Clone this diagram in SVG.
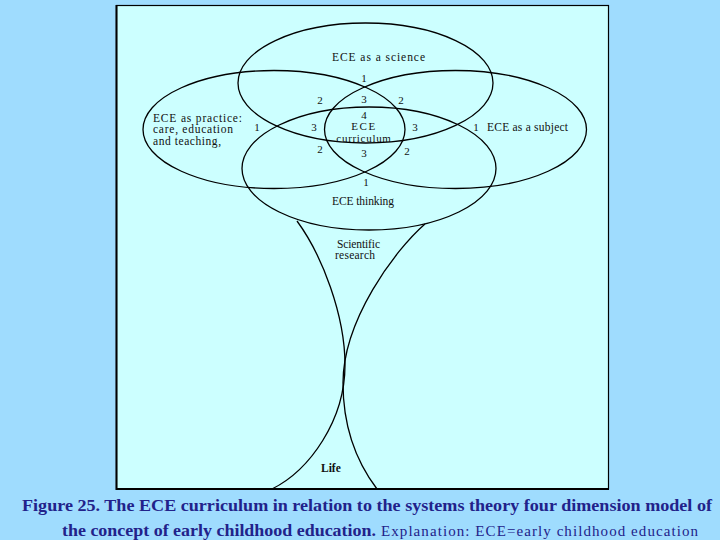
<svg xmlns="http://www.w3.org/2000/svg" width="720" height="540" viewBox="0 0 720 540">
<style>
.ring{fill:none;stroke:#000;stroke-width:1.3}
.lbl{font-family:"Liberation Serif","Times New Roman",serif;font-size:11.5px;fill:#111}
.num{font-family:"Liberation Serif","Times New Roman",serif;font-size:11px;fill:#111;text-anchor:middle}
.cap{font-family:"Liberation Serif","Times New Roman",serif;fill:#22228a}
</style>
<rect x="0" y="0" width="720" height="540" fill="#9fdcfe"/>
<rect id="panel" x="116.5" y="5.5" width="492" height="483.5" fill="#ccffff" stroke="#000" stroke-width="1.2"/>
<line x1="116.5" y1="5" x2="116.5" y2="490" stroke="#000" stroke-width="2"/>
<line x1="116" y1="489" x2="609" y2="489" stroke="#000" stroke-width="2"/>
<g id="connectors">
<path class="ring" d="M297,221 C322,255 345,315 345,365 C345,420 310,470 272,489"/>
<path class="ring" d="M425,224 C395,250 343,320 343,383 C343,425 355,460 377,489"/>
</g>
<g id="science">
<ellipse class="ring" cx="365.5" cy="83" rx="127.5" ry="60"/>
<text class="lbl" x="332" y="61" textLength="93" lengthAdjust="spacing">ECE as a science</text>
</g>
<g id="practice">
<ellipse class="ring" cx="274" cy="129.5" rx="131" ry="59"/>
<text class="lbl" x="153" y="122" textLength="89" lengthAdjust="spacing">ECE as practice:</text>
<text class="lbl" x="153" y="133" textLength="80" lengthAdjust="spacing">care, education</text>
<text class="lbl" x="153" y="145" textLength="68" lengthAdjust="spacing">and teaching,</text>
</g>
<g id="subject">
<ellipse class="ring" cx="455.5" cy="129.5" rx="131" ry="59"/>
<text class="lbl" x="487" y="131" textLength="81" lengthAdjust="spacing">ECE as a subject</text>
</g>
<g id="thinking">
<ellipse class="ring" cx="369" cy="168.5" rx="127" ry="61.5"/>
<text class="lbl" x="332" y="205" textLength="62" lengthAdjust="spacing">ECE thinking</text>
</g>
<g id="curriculum">
<text class="num" x="364" y="118.5" font-size="9.5">4</text>
<text class="num" x="364" y="130" font-size="9.5" letter-spacing="1.5">ECE</text>
<text class="num" x="364" y="141.5" font-size="9.5" letter-spacing="0.7">curriculum</text>
</g>
<g id="numbers">
<text class="num" x="364" y="82">1</text>
<text class="num" x="320" y="104">2</text>
<text class="num" x="364" y="103">3</text>
<text class="num" x="401" y="104">2</text>
<text class="num" x="314" y="131">3</text>
<text class="num" x="415" y="131">3</text>
<text class="num" x="320" y="153">2</text>
<text class="num" x="364" y="157">3</text>
<text class="num" x="407" y="155">2</text>
<text class="num" x="366" y="186" font-size="12">1</text>
<text class="num" x="257" y="131" font-size="13">1</text>
<text class="num" x="476" y="131">1</text>
</g>
<g id="research">
<text class="lbl" x="337" y="248" textLength="43" lengthAdjust="spacing">Scientific</text>
<text class="lbl" x="335" y="259" textLength="40" lengthAdjust="spacing">research</text>
</g>
<g id="life">
<text class="lbl" x="321" y="472" font-weight="bold" font-size="10.5">Life</text>
</g>
<g id="caption">
<text class="cap" x="22" y="511" font-size="17" font-weight="bold" textLength="690" lengthAdjust="spacingAndGlyphs">Figure 25. The ECE  curriculum in relation to the systems theory four  dimension model of</text>
<text class="cap" x="62" y="536" font-size="17" font-weight="bold" textLength="314" lengthAdjust="spacingAndGlyphs">the concept of early childhood education.</text>
<text class="cap" x="381" y="536" font-size="15" textLength="317" lengthAdjust="spacing">Explanation: ECE=early childhood education</text>
</g>
</svg>
